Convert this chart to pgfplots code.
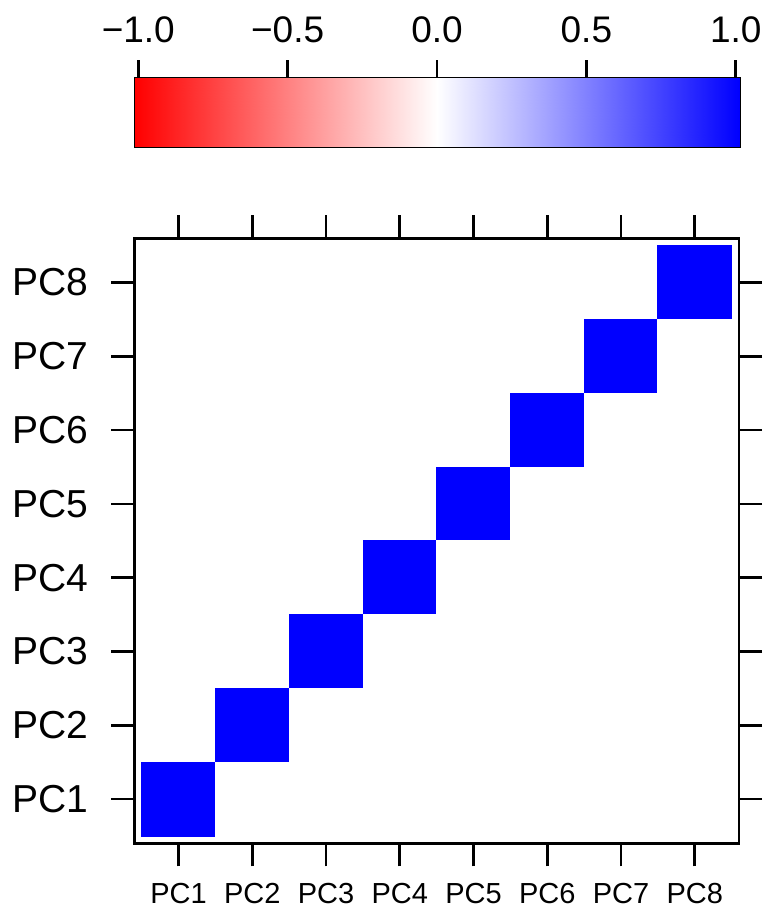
\documentclass[border=0pt]{standalone}
\usepackage{pgfplots}
\pgfplotsset{compat=1.18}
\usepackage{fontspec}
\setmainfont{Liberation Sans}
\usetikzlibrary{calc}
\pgfplotsset{colormap={rwb}{rgb255=(255,0,0) rgb255=(255,255,255) rgb255=(0,0,255)}}
% correlation matrix, rows listed from the top row (PC8) down to the bottom row (PC1)
\pgfplotstableread{
x y c
1 1 0
2 1 0
3 1 0
4 1 0
5 1 0
6 1 0
7 1 0
8 1 1
1 2 0
2 2 0
3 2 0
4 2 0
5 2 0
6 2 0
7 2 1
8 2 0
1 3 0
2 3 0
3 3 0
4 3 0
5 3 0
6 3 1
7 3 0
8 3 0
1 4 0
2 4 0
3 4 0
4 4 0
5 4 1
6 4 0
7 4 0
8 4 0
1 5 0
2 5 0
3 5 0
4 5 1
5 5 0
6 5 0
7 5 0
8 5 0
1 6 0
2 6 0
3 6 1
4 6 0
5 6 0
6 6 0
7 6 0
8 6 0
1 7 0
2 7 1
3 7 0
4 7 0
5 7 0
6 7 0
7 7 0
8 7 0
1 8 1
2 8 0
3 8 0
4 8 0
5 8 0
6 8 0
7 8 0
8 8 0
}\cormat
\begin{document}
\begin{tikzpicture}
\begin{axis}[name=main, at={(0,0)}, anchor=south west, scale only axis,
  width=302.35pt, height=302.5pt,
  xmin=0.4, xmax=8.6, ymin=0.4, ymax=8.6, y dir=reverse,
  xtick={1,...,8}, ytick={1,...,8},
  xticklabels={PC1,PC2,PC3,PC4,PC5,PC6,PC7,PC8},
  yticklabels={PC8,PC7,PC6,PC5,PC4,PC3,PC2,PC1},
  tick align=outside, tick pos=both, xticklabel pos=left, yticklabel pos=left,
  major tick length=11.5pt,
  tick style={black, line width=1.3pt},
  axis line style={line width=1.3pt},
  xticklabel shift=8.5pt, yticklabel shift=11.5pt,
  xticklabel style={font=\fontsize{14.5}{16}\selectfont, inner sep=0pt},
  yticklabel style={font=\fontsize{19.5}{22}\selectfont, inner sep=0pt},
  colormap name=rwb, point meta min=-1, point meta max=1,
]
\addplot[matrix plot, mesh/rows=8, mesh/cols=8, mesh/ordering=x varies, point meta=explicit] table[meta=c]{\cormat};
\end{axis}
\begin{axis}[name=cb, at={($(main.north west)+(0.35pt,45.8pt)$)}, anchor=south west, scale only axis,
  width=302.15pt, height=34.2pt,
  xmin=-1.011, xmax=1.012, ymin=0, ymax=1,
  xtick={-1,-0.5,0,0.5,1}, xticklabels={−1.0,−0.5,0.0,0.5,1.0}, ytick=\empty,
  tick align=outside, xtick pos=right, xticklabel pos=right,
  major tick length=9pt,
  tick style={black, line width=1.3pt},
  axis line style={line width=1.3pt},
  xticklabel shift=8.5pt,
  xticklabel style={font=\fontsize{18.5}{20}\selectfont, inner sep=0pt},
  colormap name=rwb, point meta min=-1, point meta max=1,
]
\addplot[surf, shader=interp, mesh/rows=2, mesh/cols=3, mesh/ordering=x varies, point meta=explicit] table[meta=c]{
x y c
-1.011 0 -1
0 0 0
1.012 0 1
-1.011 1 -1
0 1 0
1.012 1 1
};
\end{axis}
\pgfresetboundingbox
\path[use as bounding box] ($(main.south west)+(-67.15pt,-34.35pt)$) rectangle ($(main.north east)+(14.5pt,119.15pt)$);
\end{tikzpicture}
\end{document}
